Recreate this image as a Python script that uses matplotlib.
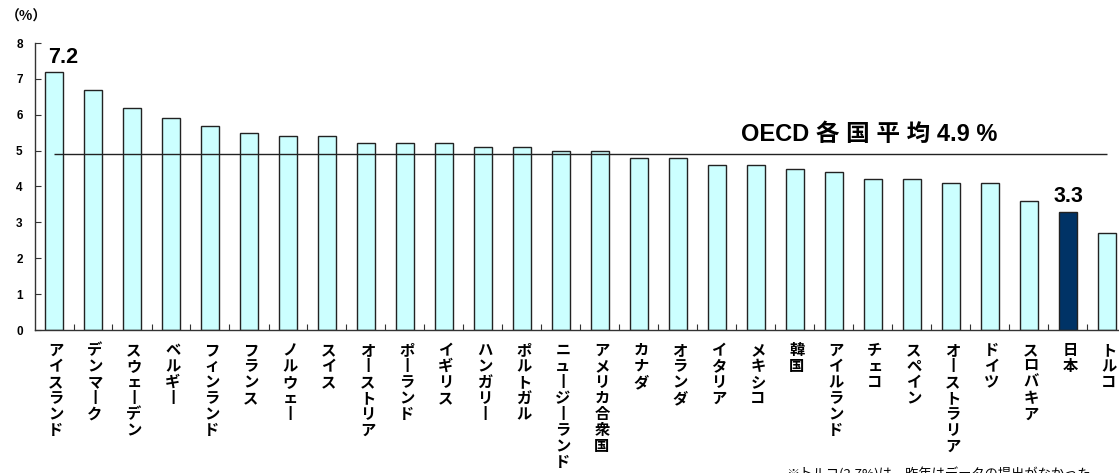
import matplotlib
matplotlib.use("Agg")
import matplotlib.pyplot as plt
import matplotlib.transforms as mtransforms
import numpy as np

plt.rcParams['font.family'] = ['Liberation Sans', 'Noto Sans CJK JP', 'DejaVu Sans']

# countries and rate (%)
countries = ['アイスランド', 'デンマーク', 'スウェーデン', 'ベルギー', 'フィンランド',
             'フランス', 'ノルウェー', 'スイス', 'オーストリア', 'ポーランド',
             'イギリス', 'ハンガリー', 'ポルトガル', 'ニュージーランド', 'アメリカ合衆国',
             'カナダ', 'オランダ', 'イタリア', 'メキシコ', '韓国',
             'アイルランド', 'チェコ', 'スペイン', 'オーストラリア', 'ドイツ',
             'スロバキア', '日本', 'トルコ']
values = [7.2, 6.7, 6.2, 5.9, 5.7, 5.5, 5.4, 5.4, 5.2, 5.2,
          5.2, 5.1, 5.1, 5.0, 5.0, 4.8, 4.8, 4.6, 4.6, 4.5,
          4.4, 4.2, 4.2, 4.1, 4.1, 3.6, 3.3, 2.7]
oecd_avg = 4.9
highlight = '日本'
yticks = [0, 1, 2, 3, 4, 5, 6, 7, 8]

W, H = 1119, 473
fig = plt.figure(figsize=(W / 100, H / 100), dpi=100)
# plot area runs a bit past the right edge
ax = fig.add_axes([34.5 / W, 1 - 330 / H, 1092 / W, 287 / H])

x = np.arange(len(countries))
colors = ['#003366' if c == highlight else '#CCFFFF' for c in countries]
ax.bar(x, values, width=0.44, color=colors, edgecolor='#222222', linewidth=1.0, zorder=2)

# OECD average line
ax.hlines(oecd_avg, x[0], x[-1], color='#222222', linewidth=1.0, zorder=3)
avg_label = 'OECD 各 国 平 均 %.1f %%' % oecd_avg
ax.text(20.9, oecd_avg + 0.55, avg_label,
        ha='center', va='center', fontsize=17, fontweight='bold')

# value labels: top country and Japan
ax.annotate('%.1f' % values[0], (x[0], values[0]), xytext=(9, 14),
            textcoords='offset pixels', ha='center', va='center',
            fontsize=15.5, fontweight='bold')
j = countries.index(highlight)
ax.annotate('%.1f' % values[j], (x[j], values[j]), xytext=(0, 15),
            textcoords='offset pixels', ha='center', va='center',
            fontsize=15.5, fontweight='bold')

ax.set_xlim(-0.5, len(countries) - 0.5)
ax.set_ylim(0, 8)
ax.set_yticks(yticks)
ax.set_yticklabels([str(t) for t in yticks], fontsize=8.5, fontweight='bold')
ax.set_xticks(x[:-1] + 0.5)
ax.set_xticklabels([])
ax.tick_params(axis='y', direction='in', length=4, pad=8.5, color='#333333')
ax.tick_params(axis='x', direction='in', length=4, color='#333333')
for s in ['top', 'right']:
    ax.spines[s].set_visible(False)
for s in ['left', 'bottom']:
    ax.spines[s].set_color('#333333')
    ax.spines[s].set_linewidth(1.0)

# vertical (tategaki) category labels
trans = mtransforms.blended_transform_factory(ax.transData, fig.transFigure)
for i, name in enumerate(countries):
    txt = '\n'.join(name.replace('ー', '丨'))
    ax.text(i + 0.05, 1 - 342 / H, txt, transform=trans, ha='center', va='top',
            fontsize=11, fontweight='bold', family=['Noto Sans CJK JP'],
            linespacing=1.0)

fig.text(6 / W, 1 - 17 / H, '（%）', ha='left', va='center', fontsize=10,
         fontweight='bold', family=['Noto Sans CJK JP'])
fig.text(786 / W, 1 - 467 / H, '※トルコ(2.7%)は、昨年はデータの提出がなかった',
         ha='left', va='top', fontsize=9.5, family=['Noto Sans CJK JP'])

fig.savefig('out.png', dpi=100)
